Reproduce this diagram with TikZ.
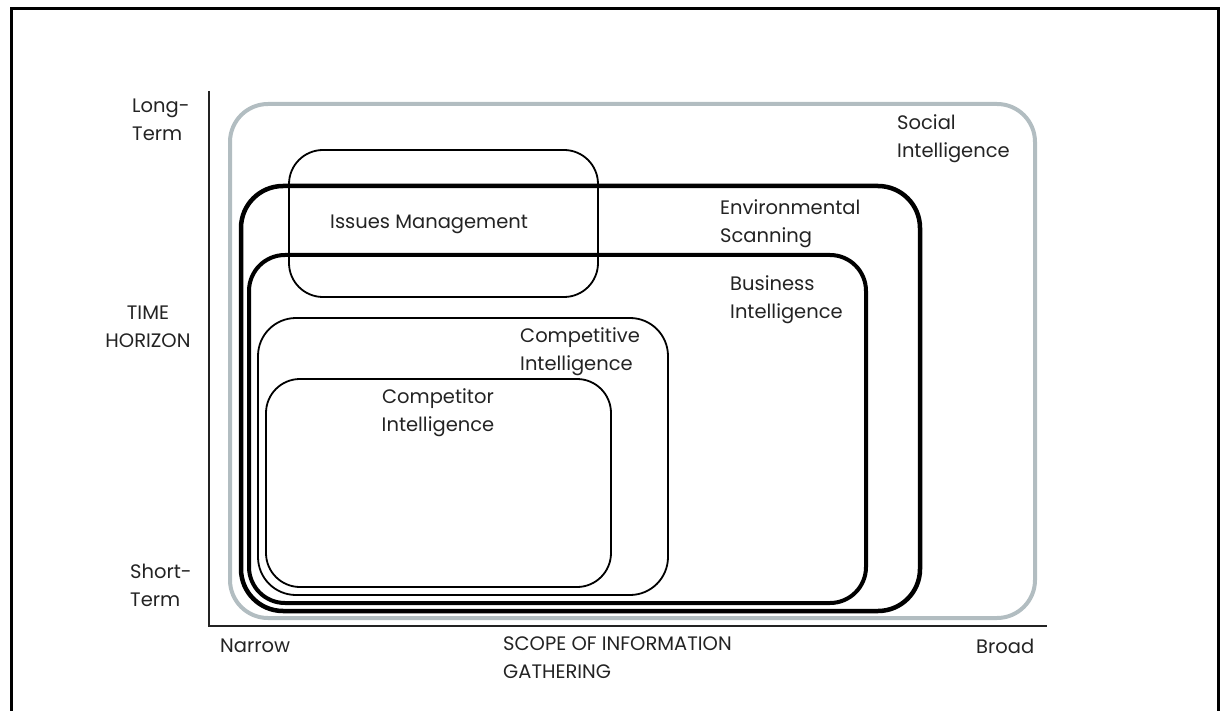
\documentclass[tikz,border=0pt]{standalone}
\usepackage{fontspec}
\setmainfont{Poppins}
\usepackage{tikz}
\tikzset{>=latex}
\definecolor{softgray}{RGB}{178,189,193}
\definecolor{inkgray}{RGB}{35,35,35}
\tikzset{
  lbl/.style={font=\fontsize{19.5}{28}\selectfont, text=inkgray, inner sep=0pt, align=left, anchor=north west},
  boldbox/.style={line width=4pt, rounded corners=38pt},
  thinbox/.style={line width=1.8pt, rounded corners=34pt}
}

\begin{document}
\begin{tikzpicture}[x=1pt,y=-1pt]
    \useasboundingbox (0,0) rectangle (1221,711);
    \draw [line width=3pt] (11,711) -- (11,9) -- (1218,9) -- (1218,711);
    \coordinate (origin) at (209,626);
    \draw [line width=2.5pt, color=inkgray] (209,91) -- (origin) -- (1047,626);
    \draw [boldbox, softgray] (230,104) rectangle (1035,618);
    \draw [boldbox, line width=4.5pt, rounded corners=42pt] (241,186) rectangle (920,611);
    \draw [boldbox, rounded corners=36pt] (249,255) rectangle (866,603);
    \draw [thinbox] (289,150) rectangle (598,297);
    \draw [thinbox, rounded corners=38pt] (258,318) rectangle (668,595);
    \draw [thinbox] (266,379) rectangle (611,587);
    \node [lbl] (longterm) at (132,99) {Long-\\Term};
    \node [lbl, anchor=north, align=center] (timehor) at (148,306) {TIME\\HORIZON};
    \node [lbl] (shortterm) at (130,564) {Short-\\Term};
    \node [lbl] (narrow) at (220,639) {Narrow};
    \node [lbl] (scope) at (503,637) {SCOPE OF INFORMATION\\GATHERING};
    \node [lbl] (broad) at (976,639) {Broad};
    \node [lbl] (social) at (897,114) {Social\\Intelligence};
    \node [lbl] (envscan) at (720,199) {Environmental\\Scanning};
    \node [lbl] (busint) at (730,275) {Business\\Intelligence};
    \node [lbl] (compint) at (520,327) {Competitive\\Intelligence};
    \node [lbl, anchor=north, align=center] (comptr) at (438,388) {Competitor\\Intelligence};
    \node [lbl] (issues) at (330,215) {Issues Management};
  \end{tikzpicture}
\end{document}
